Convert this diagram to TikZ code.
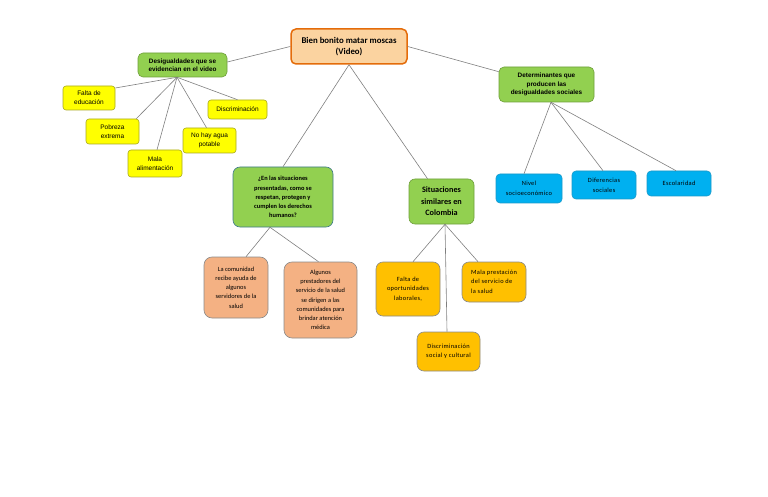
\documentclass[tikz,border=0pt]{standalone}
\usepackage{fontspec}
\setmainfont{Liberation Sans}
\newfontfamily\calfont{Carlito}
\newfontfamily\calspaced[LetterSpace=5]{Carlito}
\definecolor{rootfill}{HTML}{FBD3A0}
\definecolor{rootdraw}{HTML}{E46C0A}
\definecolor{gfill}{HTML}{92D050}
\definecolor{gdraw}{HTML}{6E9E3A}
\definecolor{qdraw}{HTML}{3F7A8C}
\definecolor{yfill}{HTML}{FFFF00}
\definecolor{ydraw}{HTML}{A8A820}
\definecolor{sfill}{HTML}{F4B183}
\definecolor{afill}{HTML}{FFC000}
\definecolor{cfill}{HTML}{00B0F0}
\definecolor{cdraw}{HTML}{1A98C8}
\definecolor{bdraw}{HTML}{8A8A8A}
\definecolor{linec}{HTML}{7F7F7F}
\tikzset{
  box/.style={rectangle, rounded corners=5pt, inner sep=0pt, align=center, line width=0.6pt},
  rootbox/.style={box, fill=rootfill, draw=rootdraw, line width=1.5pt, font=\calfont\bfseries\fontsize{8.8}{10.5}\selectfont},
  greenbox/.style={box, fill=gfill, draw=gdraw, font=\bfseries\fontsize{6.4}{8.4}\selectfont},
  qbox/.style={box, rounded corners=7pt, fill=gfill, draw=qdraw, font=\calfont\bfseries\fontsize{6.4}{9.2}\selectfont},
  sitbox/.style={box, rounded corners=6pt, fill=gfill, draw=gdraw, font=\calfont\bfseries\fontsize{8.2}{11.5}\selectfont},
  ybox/.style={box, rounded corners=3pt, fill=yfill, draw=ydraw, font=\fontsize{6.5}{8.8}\selectfont},
  salbox/.style={box, rounded corners=8pt, fill=sfill, draw=bdraw, font=\calfont\fontsize{6.4}{9.2}\selectfont},
  ambbox/.style={box, rounded corners=7pt, fill=afill, draw=bdraw, font=\calspaced\fontsize{6.4}{9.4}\selectfont},
  cybox/.style={box, rounded corners=4pt, fill=cfill, draw=cdraw, font=\calspaced\fontsize{6.4}{10}\selectfont},
  conn/.style={draw=linec, line width=0.6pt}
}
\begin{document}
\begin{tikzpicture}[x=1pt,y=-1pt]
\useasboundingbox (0,0) rectangle (768,497);
% root
\node[rootbox, minimum width=116pt, minimum height=35pt] (root) at (349,46.5) {Bien bonito matar moscas\\(Video)};
% level 1
\node[greenbox, minimum width=89pt, minimum height=24pt] (desig) at (182.5,65) {Desigualdades que se\\evidencian en el video};
\node[greenbox, minimum width=95pt, minimum height=35pt] (det) at (546.5,84.5) {Determinantes que\\producen las\\desigualdades sociales};
\node[qbox, minimum width=100pt, minimum height=60pt] (q) at (283,197) {¿En las situaciones\\presentadas, como se\\respetan, protegen y\\cumplen los derechos\\humanos?};
\node[sitbox, minimum width=65pt, minimum height=45pt] (sit) at (441.5,201.5) {Situaciones\\similares en\\Colombia};
% yellow
\node[ybox, minimum width=52pt, minimum height=24pt] (falta) at (89,98) {Falta de\\educación};
\node[ybox, minimum width=53pt, minimum height=25pt] (pobreza) at (112.5,131.5) {Pobreza\\extrema};
\node[ybox, minimum width=54pt, minimum height=27pt] (mala) at (155,163.5) {Mala\\alimentación};
\node[ybox, minimum width=53pt, minimum height=25pt] (agua) at (209.5,140.5) {No hay agua\\potable};
\node[ybox, minimum width=59pt, minimum height=19pt] (disc) at (237.5,109.5) {Discriminación};
% salmon
\node[salbox, minimum width=64pt, minimum height=61pt] (comu) at (236,287.5) {La comunidad\\recibe ayuda de\\algunos\\servidores de la\\salud};
\node[salbox, minimum width=73pt, minimum height=76pt] (algu) at (320.5,300) {Algunos\\prestadores del\\servicio de la salud\\se dirigen a las\\comunidades para\\brindar atención\\médica};
% amber
\node[ambbox, minimum width=64pt, minimum height=54pt] (fop) at (408,289) {Falta de\\oportunidades\\laborales,};
\node[ambbox, minimum width=64pt, minimum height=40pt] (mp) at (494,282) {\begin{tabular}{@{}l@{}}Mala prestación\\del servicio de\\la salud\end{tabular}};
\node[ambbox, minimum width=63pt, minimum height=39pt] (dsc) at (448.5,351.5) {Discriminación\\social y cultural};
% cyan
\node[cybox, minimum width=66pt, minimum height=29pt] (nivel) at (529,188.5) {Nivel\\socioeconómico};
\node[cybox, minimum width=64pt, minimum height=28pt] (dife) at (604,185) {Diferencias\\sociales};
\node[cybox, minimum width=64pt, minimum height=25pt] (esco) at (679,183.5) {Escolaridad};
% hubs
\coordinate (dh) at ([xshift=-5.5pt]desig.south);
\coordinate (qh) at ([xshift=-13pt]q.south);
\coordinate (sh) at ([xshift=3.5pt]sit.south);
\coordinate (deth) at ([xshift=4.5pt]det.south);
% connectors
\draw[conn] (root.west) -- ([yshift=3pt]desig.east);
\draw[conn] (root.east) -- ([yshift=-5pt]det.north west);
\draw[conn] (root.south) -- (q.north);
\draw[conn] (root.south) -- ([xshift=-14pt]sit.north);
\draw[conn] (dh) -- ([yshift=10pt]falta.east);
\draw[conn] (dh) -- ([xshift=-3pt]pobreza.north east);
\draw[conn] (dh) -- ([xshift=2pt]mala.north);
\draw[conn] (dh) -- ([xshift=-3pt]agua.north);
\draw[conn] (dh) -- (disc.north);
\draw[conn] (qh) -- ([xshift=10pt]comu.north);
\draw[conn] (qh) -- ([xshift=-2pt]algu.north);
\draw[conn] (sh) -- ([xshift=5pt]fop.north);
\draw[conn] (sh) -- ([xshift=-1.5pt]dsc.north);
\draw[conn] (sh) -- ([xshift=-16pt]mp.north);
\draw[conn] (deth) -- ([xshift=-5pt]nivel.north);
\draw[conn] (deth) -- ([xshift=-1pt]dife.north);
\draw[conn] (deth) -- ([xshift=-3pt]esco.north);
\end{tikzpicture}
\end{document}
